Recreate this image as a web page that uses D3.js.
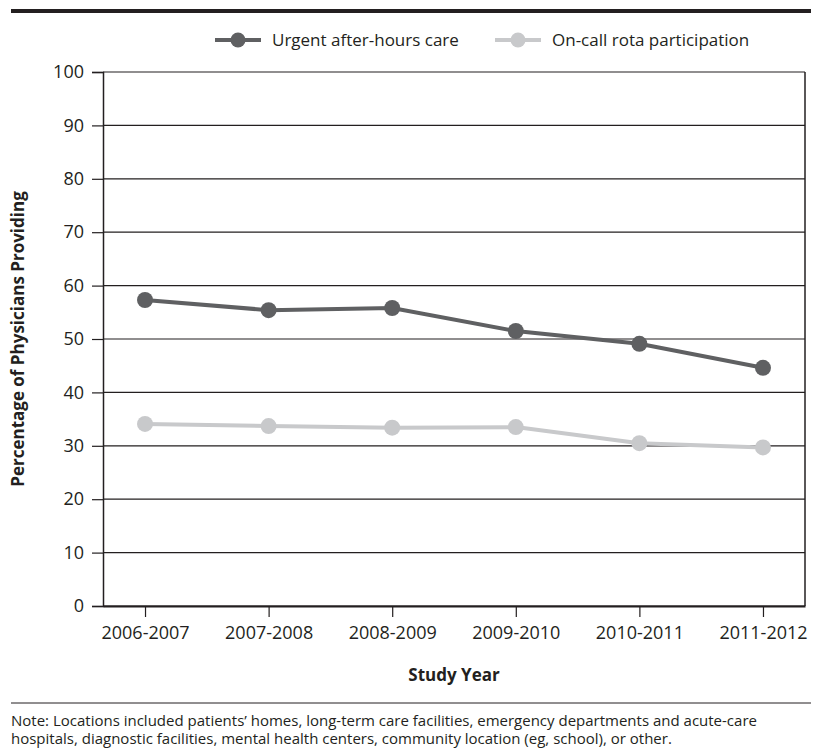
<!DOCTYPE html>
<html>
<head>
<meta charset="utf-8">
<script src="https://cdn.jsdelivr.net/npm/d3@7"></script>
<style>
  body { margin: 0; background: #fff; }
  text { font-family: "Open Sans", sans-serif; fill: #231f20; }
</style>
</head>
<body>
<div id="vis"></div>
<script>
const W = 822, H = 750;
const margin = {top: 72, right: 17, bottom: 144, left: 103};
const width = W - margin.left - margin.right;
const height = H - margin.top - margin.bottom;

// data
const years = ['2006-2007', '2007-2008', '2008-2009', '2009-2010', '2010-2011', '2011-2012'];
const urgentCare = [57.3, 55.4, 55.8, 51.5, 49.1, 44.6];
const onCallRota = [34.1, 33.7, 33.4, 33.5, 30.5, 29.7];
const yTicks = [0, 10, 20, 30, 40, 50, 60, 70, 80, 90, 100];
const seriesNames = ['Urgent after-hours care', 'On-call rota participation'];
const seriesColors = ['#5f6062', '#c8c9cb'];

const svg = d3.select('#vis')
    .append('svg')
    .attr('width', W)
    .attr('height', H);

// thick rule on top
svg.append('rect')
    .attr('x', 11).attr('y', 9)
    .attr('width', 800).attr('height', 4)
    .attr('fill', '#231f20');

const g = svg.append('g')
    .attr('transform', `translate(${margin.left},${margin.top})`);

const x = d3.scalePoint()
    .domain(years)
    .range([0, width])
    .padding(0.34);

const y = d3.scaleLinear()
    .domain([0, 100])
    .range([height, 0]);

// gridlines
g.selectAll('.grid')
    .data(yTicks)
    .enter()
    .append('line')
    .attr('x1', 0).attr('x2', width)
    .attr('y1', d => y(d)).attr('y2', d => y(d))
    .attr('stroke', '#231f20')
    .attr('stroke-width', 1.2);

// right border
g.append('line')
    .attr('x1', width).attr('x2', width)
    .attr('y1', 0).attr('y2', height)
    .attr('stroke', '#231f20')
    .attr('stroke-width', 1.5);

const yAxis = g.append('g')
    .call(d3.axisLeft(y).tickValues(yTicks).tickSize(11).tickPadding(8));
yAxis.select('.domain').attr('stroke', '#231f20').attr('stroke-width', 1.5);
yAxis.selectAll('.tick line').attr('stroke', '#231f20').attr('stroke-width', 1.2);
yAxis.selectAll('.tick text').style('font-size', '18px').attr('fill', '#231f20');

const xAxis = g.append('g')
    .attr('transform', `translate(0,${height})`)
    .call(d3.axisBottom(x).tickSize(11).tickPadding(9).tickSizeOuter(0));
xAxis.select('.domain').attr('stroke', '#231f20').attr('stroke-width', 2);
xAxis.selectAll('.tick line').attr('stroke', '#231f20').attr('stroke-width', 1.2);
xAxis.selectAll('.tick text').style('font-size', '18px').attr('fill', '#231f20');

// lines + markers
const series = [urgentCare, onCallRota];
const line = d3.line()
    .x((d, i) => x(years[i]))
    .y(d => y(d));

series.slice().reverse().forEach((vals, k) => {
    const idx = series.length - 1 - k;
    g.append('path')
        .datum(vals)
        .attr('d', line)
        .attr('fill', 'none')
        .attr('stroke', seriesColors[idx])
        .attr('stroke-width', 4);
    g.selectAll(null)
        .data(vals)
        .enter()
        .append('circle')
        .attr('cx', (d, i) => x(years[i]))
        .attr('cy', d => y(d))
        .attr('r', 8)
        .attr('fill', seriesColors[idx]);
});

// axis labels
g.append('text')
    .attr('x', width / 2)
    .attr('y', height + 75)
    .style('text-anchor', 'middle')
    .style('font-size', '17px')
    .style('font-weight', 'bold')
    .text('Study Year');

g.append('text')
    .attr('transform', 'rotate(-90)')
    .attr('x', -height / 2)
    .attr('y', -79)
    .style('text-anchor', 'middle')
    .style('font-size', '17px')
    .style('font-weight', 'bold')
    .text('Percentage of Physicians Providing');

// legend
const legendX = [215, 495];
const legend = svg.selectAll('.legend')
    .data(seriesNames)
    .enter()
    .append('g')
    .attr('transform', (d, i) => `translate(${legendX[i]},40)`);
legend.append('line')
    .attr('x1', 0).attr('x2', 46)
    .attr('stroke', (d, i) => seriesColors[i])
    .attr('stroke-width', 4);
legend.append('circle')
    .attr('cx', 23).attr('r', 7.5)
    .attr('fill', (d, i) => seriesColors[i]);
legend.append('text')
    .attr('x', 57).attr('dy', '0.35em')
    .style('font-size', '17px')
    .text(d => d);

// bottom rule and note
svg.append('line')
    .attr('x1', 11).attr('x2', 811)
    .attr('y1', 703).attr('y2', 703)
    .attr('stroke', '#231f20')
    .attr('stroke-width', 1);

const note = [
    'Note: Locations included patients\u2019 homes, long-term care facilities, emergency departments and acute-care',
    'hospitals, diagnostic facilities, mental health centers, community location (eg, school), or other.'
];
svg.selectAll('.note')
    .data(note)
    .enter()
    .append('text')
    .attr('x', 11)
    .attr('y', (d, i) => 726 + i * 18)
    .style('font-size', '15px')
    .text(d => d);
</script>
</body>
</html>
